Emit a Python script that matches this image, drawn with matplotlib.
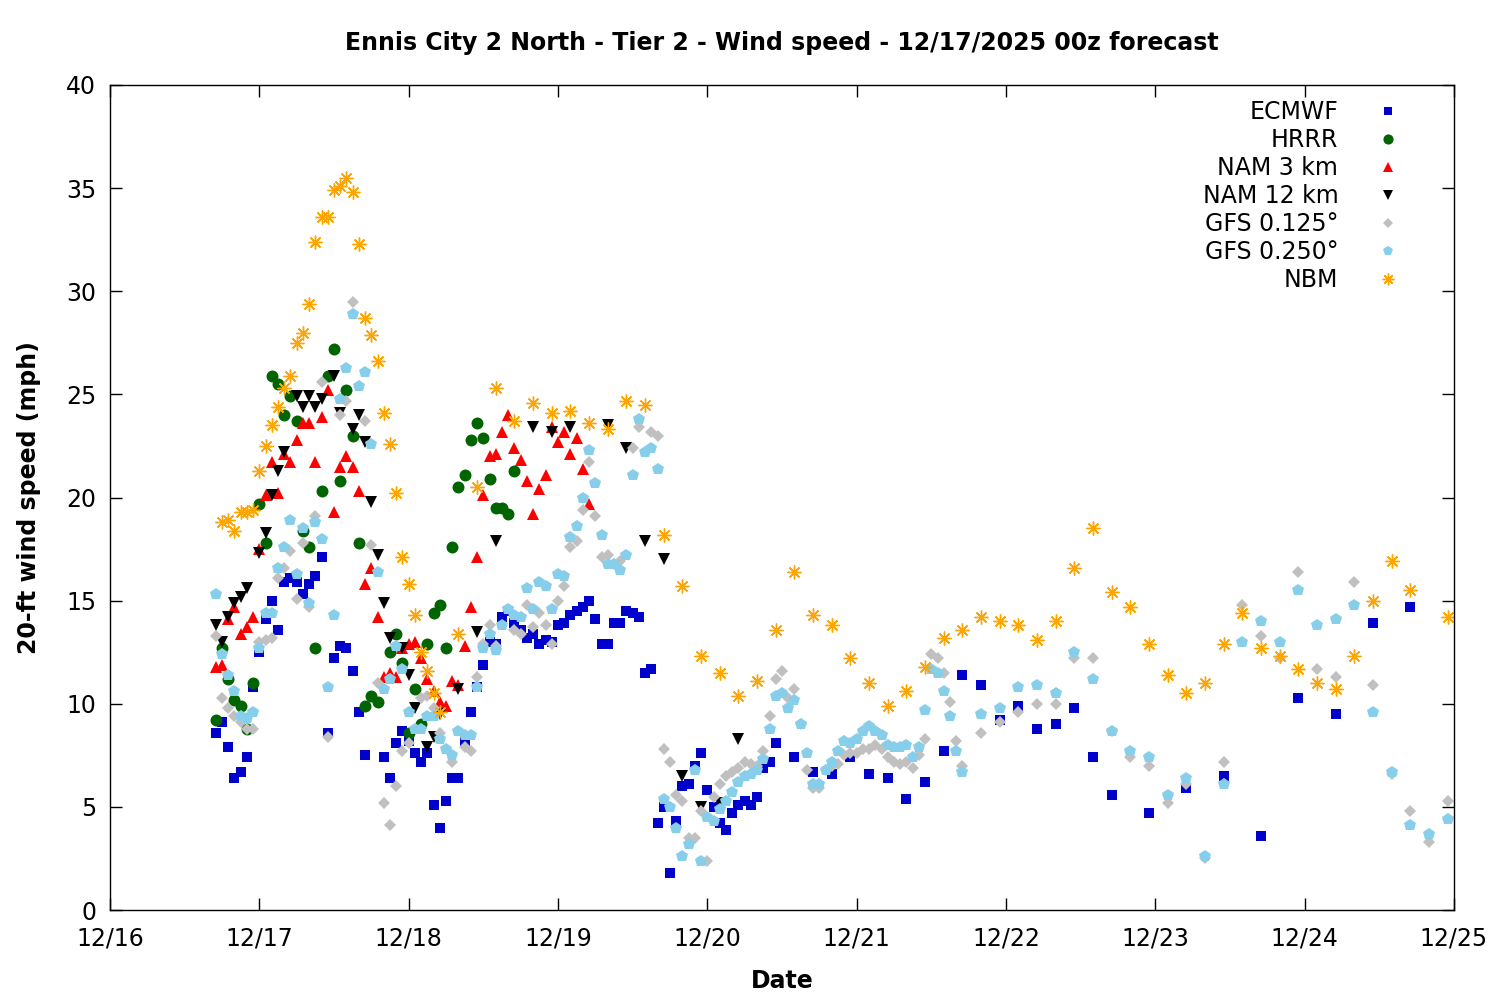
import matplotlib
matplotlib.use("Agg")
import matplotlib.pyplot as plt
import numpy as np

plt.rcParams['font.family'] = ['DejaVu Sans']

# forecast start (local time) as day-of-month: 12/16 17:00
start_day = 16 + 17 / 24.0

# ---------------- data: forecast hour and wind speed (mph) ----------------
ecmwf_hours = [*range(0, 25), *range(27, 91), *range(93, 145, 3), *range(150, 193, 6)]
ecmwf_mph = [8.6, 9.1, 7.9, 6.4, 6.7, 7.4, 10.8, 12.5, 14.1, 15.0, 13.6, 15.9, 16.1, 15.9, 15.3,
             15.8, 16.2, 17.1, 8.6, 12.2, 12.8, 12.7, 11.6, 9.6, 7.5,
             7.4, 6.4, 8.1, 8.7, 8.2, 7.6, 7.2, 7.6, 5.1, 4.0, 5.3, 6.4, 6.4, 8.2, 9.6, 10.8,
             11.9, 13.0, 12.9, 14.2, 14.5, 13.9, 13.6, 13.2, 13.4, 12.9, 13.1, 13.0, 13.8, 13.9,
             14.3, 14.5, 14.7, 15.0, 14.1, 12.9, 12.9, 13.9, 13.9, 14.5, 14.4, 14.2, 11.5, 11.7,
             4.2, 5.0, 1.8, 4.3, 6.0, 6.1, 7.0, 7.6, 5.8, 5.0, 4.2, 3.9, 4.7, 5.1, 5.3, 5.1, 5.5,
             6.9, 7.2, 8.1,
             7.4, 6.7, 6.6, 7.4, 6.6, 6.4, 5.4, 6.2, 7.7, 11.4, 10.9, 9.2, 9.9, 8.8, 9.0, 9.8,
             7.4, 5.6,
             4.7, 5.9, 6.5, 3.6, 10.3, 9.5, 13.9, 14.7]

hrrr_hours = [*range(0, 27), *range(28, 49)]
hrrr_mph = [9.2, 12.7, 11.2, 10.2, 9.9, 8.8, 11.0, 19.7, 17.8, 25.9, 25.5, 24.0, 24.9, 23.7,
            18.4, 17.6, 12.7, 20.3, 25.9, 27.2, 20.8, 25.2, 23.0, 17.8, 9.9, 10.4, 10.1,
            12.5, 13.4, 12.0, 8.6, 10.7, 9.0, 12.9, 14.4, 14.8, 12.7, 17.6, 20.5, 21.1, 22.8,
            23.6, 22.9, 20.9, 19.5, 19.5, 19.2, 21.3]

nam3_hours = list(range(0, 61))
nam3_mph = [11.8, 11.9, 14.1, 14.7, 13.4, 13.7, 14.2, 17.5, 20.1, 21.7, 20.2, 22.1, 21.7, 22.8,
            23.6, 23.6, 21.7, 23.9, 25.2, 19.3, 21.5, 22.0, 21.5, 20.3, 15.8, 16.6, 14.2, 11.3,
            11.5, 11.3, 12.7, 12.9, 13.0, 12.2, 11.2, 10.6, 10.1, 9.9, 11.1, 10.9, 12.8, 14.7,
            17.1, 20.1, 22.0, 22.1, 23.2, 24.0, 22.4, 21.8, 20.8, 19.2, 20.4, 21.1, 23.4, 22.7,
            23.2, 22.1, 22.9, 21.4, 19.7]

nam12_hours = [0, 1, 2, 3, 4, 5, 7, 8, 9, 10, 11, 13, 14, 15, 16, 17, 19, 20, 22, 23, 24, 25, 26,
               27, 28, 30, 31, 32, 34, 35, 36, 39, 42, 45, 51, 54, 57, 63, 66, 69, 72, 75, 78, 81, 84]
nam12_mph = [13.8, 13.0, 14.2, 14.9, 15.2, 15.6, 17.3, 18.3, 20.1, 21.3, 22.2, 24.9, 24.4, 24.9,
             24.4, 24.8, 25.9, 24.1, 23.3, 24.0, 22.7, 19.8, 17.2, 14.9, 13.2, 12.7, 11.4, 9.8,
             7.9, 8.4, 9.5, 10.7, 13.5, 17.9, 23.4, 23.2, 23.4, 23.5, 22.4, 17.9, 17.0, 6.5, 5.0,
             5.2, 8.3]

gfs125_hours = [*range(0, 19), 20, 21, 22, *range(24, 32), *range(33, 37), 38, *range(40, 46),
                *range(48, 66), 67, 68, *range(70, 121), *range(123, 199, 3)]
gfs125_mph = [13.3, 10.3, 9.8, 9.4, 9.1, 8.8, 8.8, 13.0, 13.1, 13.2, 16.1, 16.6, 17.4, 15.1, 17.8,
              14.7, 19.1, 25.6, 8.4,
              24.0, 24.7, 29.5,
              23.7, 17.7, 11.0, 5.2, 4.1, 6.0, 7.7, 8.1,
              10.3, 10.4, 9.8, 8.6,
              7.2,
              7.9, 7.7, 11.3, 12.9, 13.8, 12.8,
              13.6, 13.4, 14.8, 13.7, 14.4, 13.8, 12.9, 15.0, 15.7, 17.6, 17.9, 19.4, 21.7, 19.1,
              17.1, 17.2, 16.8, 16.9,
              22.4, 23.4,
              23.2, 23.0, 7.8, 7.2, 5.6, 5.3, 3.5, 3.5, 4.8, 2.4,
              5.5, 6.1, 6.5, 6.7, 6.9, 7.2, 7.1, 7.0, 7.7, 9.4,
              11.2, 11.6, 10.3, 10.7, 9.0, 6.8, 5.9, 5.9, 6.8, 7.0,
              7.1, 7.5, 7.6, 7.6, 7.8, 7.8, 8.0, 7.8, 7.4, 7.2,
              7.1, 7.2, 6.9, 7.5, 8.3, 12.4, 12.2, 11.5, 10.1, 8.2, 7.0,
              8.6, 9.1, 9.6, 10.0, 10.0, 12.2, 12.2, 8.7, 7.4, 7.0, 5.2, 6.1, 2.5, 7.2, 14.8,
              13.3, 12.2, 16.4, 11.7, 11.3, 15.9, 10.9, 6.6, 4.8, 3.3, 5.3]

gfs250_hours = [*range(0, 121), *range(123, 199, 3)]
gfs250_mph = [15.3, 12.4, 11.4, 10.6, 9.4, 9.3, 9.6, 12.7, 14.4, 14.4,
              16.6, 17.6, 18.9, 16.3, 18.5, 14.9, 18.8, 18.0, 10.8, 14.3,
              24.8, 26.3, 28.9, 25.4, 26.1, 22.6, 16.4, 10.7, 11.2, 12.8,
              11.7, 9.6, 8.8, 8.8, 9.4, 9.4, 8.3, 7.8, 7.5, 8.7,
              8.5, 8.5, 10.8, 12.7, 13.4, 12.6, 13.8, 14.6, 14.3, 14.2,
              15.6, 14.6, 15.9, 15.7, 14.6, 16.3, 16.2, 18.1, 18.6, 20.0,
              22.3, 20.7, 18.2, 16.8, 16.8, 16.5, 17.2, 21.1, 23.8, 22.2,
              22.4, 21.4, 5.4, 5.0, 4.0, 2.6, 3.2, 6.8, 2.4, 4.5,
              4.3, 4.9, 5.3, 5.7, 6.2, 6.5, 6.6, 6.8, 7.3, 8.8,
              10.4, 10.5, 9.8, 10.2, 9.0, 7.6, 6.1, 6.1, 6.8, 7.2,
              7.7, 8.2, 8.1, 8.3, 8.7, 8.9, 8.7, 8.5, 8.0, 7.9,
              7.9, 8.0, 7.4, 7.9, 9.7, 11.7, 11.5, 10.6, 9.4, 7.7,
              6.7,
              9.5, 9.8, 10.8, 10.9, 10.5, 12.5, 11.2, 8.7, 7.7, 7.4, 5.6, 6.4, 2.6, 6.1, 13.0,
              14.0, 13.0, 15.5, 13.8, 14.1, 14.8, 9.6, 6.7, 4.1, 3.7, 4.4]

nbm_hours = [*range(1, 37), *range(39, 193, 3), 198]
nbm_mph = [18.8, 18.9, 18.4, 19.3, 19.3, 19.4, 21.3, 22.5, 23.5, 24.4, 25.3, 25.9, 27.5, 28.0,
           29.4, 32.4, 33.6, 33.6, 34.9, 35.1, 35.5, 34.8, 32.3, 28.7, 27.9, 26.6, 24.1, 22.6,
           20.2, 17.1, 15.8, 14.3, 12.5, 11.6, 10.5, 9.6,
           13.4, 20.5, 25.3, 23.7, 24.6, 24.1, 24.2, 23.6, 23.3, 24.7, 24.5, 18.2, 15.7, 12.3,
           11.5, 10.4, 11.1, 13.6, 16.4, 14.3, 13.8, 12.2, 11.0, 9.9, 10.6, 11.8, 13.2, 13.6,
           14.2, 14.0, 13.8, 13.1, 14.0, 16.6, 18.5, 15.4, 14.7, 12.9, 11.4, 10.5, 11.0, 12.9,
           14.4, 12.7, 12.3, 11.7, 11.0, 10.7, 12.3, 15.0, 16.9, 15.5,
           14.2]

tick_days = list(range(16, 26))
tick_labels = ["12/%d" % d for d in tick_days]

series = [
    ("ECMWF", ecmwf_hours, ecmwf_mph, dict(marker='s', color='#0000cc', ms=6.6)),
    ("HRRR", hrrr_hours, hrrr_mph, dict(marker='o', color='#006400', ms=8.6)),
    ("NAM 3 km", nam3_hours, nam3_mph, dict(marker='^', color='#ff0000', ms=8.6)),
    ("NAM 12 km", nam12_hours, nam12_mph, dict(marker='v', color='#000000', ms=8.6)),
    ("GFS 0.125°", gfs125_hours, gfs125_mph, dict(marker='D', color='#c0c0c0', ms=6.4)),
    ("GFS 0.250°", gfs250_hours, gfs250_mph, dict(marker='p', color='#87ceeb', ms=9.0)),
    ("NBM", nbm_hours, nbm_mph, dict(marker=(8, 2, 0), color='#ffa500', ms=10, mew=1.0)),
]

FS = 17

fig = plt.figure(figsize=(15, 10), dpi=100)
ax = fig.add_axes([110 / 1500, 90 / 1000, 1344 / 1500, 825 / 1000])

for name, hrs, vals, st in series:
    assert len(hrs) == len(vals), name
    t = start_day + np.array(hrs) / 24.0
    ax.plot(t, vals, linestyle='none', marker=st['marker'], color=st['color'],
            markersize=st['ms'], markeredgewidth=st.get('mew', 0), label=name)

ax.set_xlim(16, 25)
ax.set_ylim(0, 40)
ax.set_xticks(tick_days)
ax.set_xticklabels(tick_labels)
ax.set_yticks(range(0, 41, 5))
ax.tick_params(direction='in', length=8.5, width=1, top=True, right=True,
               labelsize=FS, pad=10)
ax.tick_params(axis='x', pad=12)
for s in ax.spines.values():
    s.set_linewidth(1)

ax.set_xlabel("Date", fontsize=FS, fontweight='bold', labelpad=13)
ax.set_ylabel("20-ft wind speed (mph)", fontsize=FS, fontweight='bold', labelpad=18)
ax.set_title("Ennis City 2 North - Tier 2 - Wind speed - 12/17/2025 00z forecast",
             fontsize=FS, fontweight='bold', pad=25.5)

leg = ax.legend(loc='upper right', bbox_to_anchor=(0.9684, 0.982), frameon=False,
                markerfirst=False, numpoints=1, fontsize=FS, handlelength=2.0,
                handletextpad=1.1, labelspacing=0.17, borderpad=0, borderaxespad=0,
                markerscale=0.85)
for txt in leg.get_texts():
    txt.set_ha('right')

fig.savefig("out.png", dpi=100)
